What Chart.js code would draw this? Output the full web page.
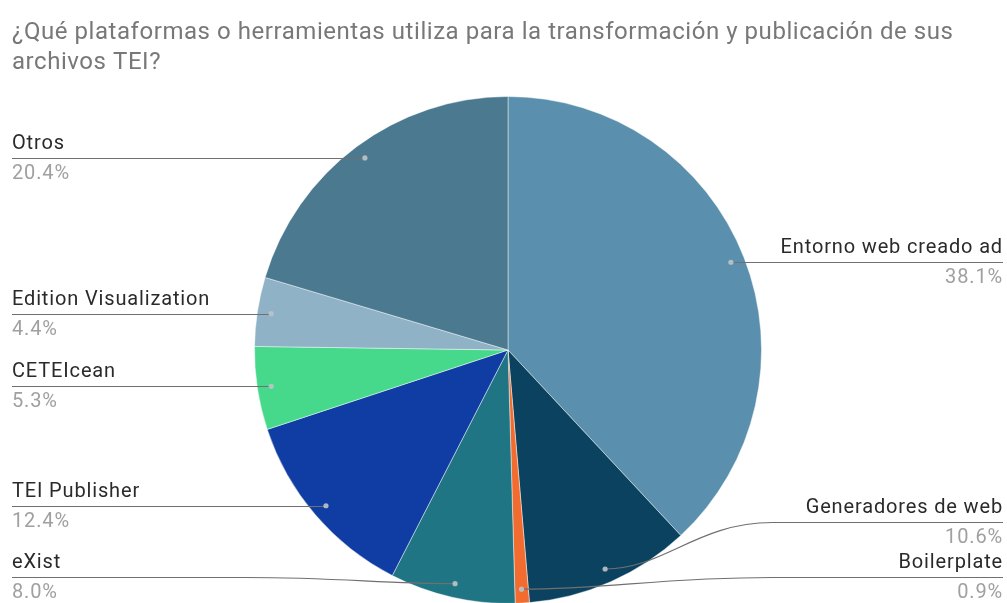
<!DOCTYPE html>
<html>
<head>
<meta charset="utf-8">
<script src="https://cdn.jsdelivr.net/npm/chart.js@4.4.1/dist/chart.umd.min.js"></script>
<style>
    html, body { margin: 0; padding: 0; background: #fff; overflow: hidden; }
    #wrap { width: 1007px; height: 620px; }
</style>
</head>
<body>
<div id="wrap"><canvas id="chart" width="1007" height="620"></canvas></div>
<script>
// 図のタイトル（2行）
const titleLines = [
    '¿Qué plataformas o herramientas utiliza para la transformación y publicación de sus',
    'archivos TEI?'
];

// カテゴリと割合（％）
const categories = [
    'Entorno web creado ad',
    'Generadores de web',
    'Boilerplate',
    'eXist',
    'TEI Publisher',
    'CETEIcean',
    'Edition Visualization',
    'Otros'
];
const shares = [38.1, 10.6, 0.9, 8.0, 12.4, 5.3, 4.4, 20.4];

// スライスの色
const sliceColors = [
    '#5b8fae', '#0b4260', '#f26b2f', '#1f7583',
    '#0f3da3', '#46d98b', '#8fb2c6', '#4a7990'
];

// タイトル描画プラグイン
const titlePlugin = {
    id: 'titlePlugin',
    afterDraw(chart) {
        const ctx = chart.ctx;
        ctx.save();
        ctx.font = '24px Roboto';
        ctx.letterSpacing = '0.55px';
        ctx.fillStyle = '#787878';
        ctx.textAlign = 'left';
        ctx.textBaseline = 'middle';
        titleLines.forEach((line, i) => {
            ctx.fillText(line, 12, 33 + i * 30);
        });
        ctx.restore();
    }
};

// 引き出し線付きラベルのプラグイン
const calloutPlugin = {
    id: 'calloutPlugin',
    afterDraw(chart) {
        const ctx = chart.ctx;
        const meta = chart.getDatasetMeta(0);
        const W = chart.width;
        const maxLineY = 577;
        const gap = 55;

        // 各スライスの点の位置を計算
        const items = meta.data.map((arc, i) => {
            const p = arc.getProps(['x', 'y', 'startAngle', 'endAngle', 'outerRadius'], true);
            const mid = (p.startAngle + p.endAngle) / 2;
            const r = p.outerRadius * 0.945;
            return {
                i,
                cx: p.x,
                R: p.outerRadius,
                dotX: p.x + Math.cos(mid) * r,
                dotY: p.y + Math.sin(mid) * r,
                right: Math.cos(mid) >= 0
            };
        });

        // 左右ごとに重なりを調整
        [true, false].forEach(side => {
            const list = items.filter(it => it.right === side).sort((a, b) => a.dotY - b.dotY);
            list.forEach(it => { it.lineY = Math.min(it.dotY, maxLineY); });
            for (let k = list.length - 2; k >= 0; k--) {
                if (list[k].lineY > list[k + 1].lineY - gap) {
                    list[k].lineY = list[k + 1].lineY - gap;
                }
            }
        });

        ctx.save();
        items.forEach(it => {
            const y = Math.round(it.lineY) + 0.5;
            const bent = Math.abs(it.lineY - it.dotY) > 2;
            const outerX = it.right ? W - 4 : 12;
            const bendX = it.right ? it.cx + it.R + 11 : it.cx - it.R - 9;

            ctx.strokeStyle = '#707070';
            ctx.lineWidth = 1.2;
            ctx.beginPath();
            ctx.moveTo(outerX, y);
            if (bent) {
                ctx.lineTo(bendX, y);
                const dx = it.dotX - bendX;
                ctx.bezierCurveTo(bendX + dx * 0.45, y, it.dotX - dx * 0.35, it.dotY, it.dotX, it.dotY);
            } else {
                ctx.lineTo(it.dotX, y);
            }
            ctx.stroke();

            // 点
            ctx.fillStyle = 'rgba(190,195,200,0.9)';
            ctx.beginPath();
            ctx.arc(it.dotX, it.dotY, 2.6, 0, Math.PI * 2);
            ctx.fill();

            // テキスト
            ctx.textAlign = it.right ? 'right' : 'left';
            ctx.textBaseline = 'middle';
            ctx.font = '20px Roboto';
            ctx.letterSpacing = '0.85px';
            ctx.fillStyle = '#2a2a2a';
            ctx.fillText(categories[it.i], outerX, it.lineY - 14);
            ctx.fillStyle = '#a0a0a0';
            ctx.fillText(shares[it.i].toFixed(1) + '%', outerX, it.lineY + 16);
        });
        ctx.restore();
    }
};

const ctx = document.getElementById('chart').getContext('2d');
new Chart(ctx, {
    type: 'pie',
    data: {
        labels: categories,
        datasets: [{
            data: shares,
            backgroundColor: sliceColors,
            borderColor: 'rgba(255,255,255,0.45)',
            borderWidth: 1
        }]
    },
    options: {
        responsive: false,
        animation: false,
        layout: {
            padding: { top: 96, bottom: 16, left: 254, right: 245 }
        },
        plugins: {
            legend: { display: false },
            tooltip: { enabled: false }
        }
    },
    plugins: [titlePlugin, calloutPlugin]
});
</script>
</body>
</html>
